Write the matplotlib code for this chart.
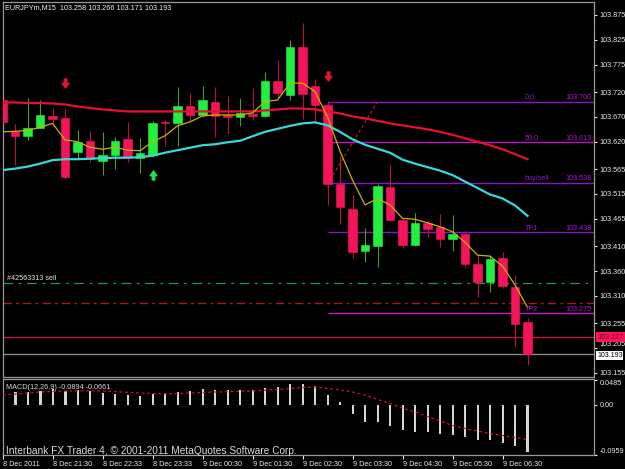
import matplotlib
matplotlib.use("Agg")
import matplotlib.pyplot as plt
import matplotlib.transforms as mtransforms
from matplotlib.patches import Rectangle
from matplotlib.path import Path

plt.rcParams['font.family'] = ['Liberation Sans', 'DejaVu Sans']
plt.rcParams['lines.scale_dashes'] = False

# ---------------- data ----------------
header_text = "EURJPYm,M15  103.258 103.266 103.171 103.193"
macd_text = "MACD(12,26,9) -0.0894 -0.0661"
copyright_text = "Interbank FX Trader 4, \u00a9 2001-2011 MetaQuotes Software Corp."

opens = [103.703, 103.642, 103.632, 103.647, 103.672, 103.667, 103.599, 103.621, 103.582, 103.594,
         103.626, 103.587, 103.593, 103.660, 103.658, 103.692, 103.674, 103.700, 103.674, 103.670,
         103.675, 103.672, 103.743, 103.714, 103.810, 103.732, 103.694, 103.536, 103.485, 103.401,
         103.411, 103.530, 103.463, 103.412, 103.456, 103.449, 103.424, 103.435, 103.374, 103.337,
         103.387, 103.327, 103.258]
highs = [103.712, 103.656, 103.709, 103.704, 103.687, 103.686, 103.644, 103.642, 103.640, 103.630,
         103.659, 103.627, 103.662, 103.664, 103.730, 103.719, 103.732, 103.731, 103.713, 103.709,
         103.728, 103.761, 103.784, 103.825, 103.858, 103.746, 103.701, 103.591, 103.512, 103.446,
         103.535, 103.573, 103.467, 103.476, 103.463, 103.474, 103.473, 103.437, 103.392, 103.392,
         103.399, 103.352, 103.266]
lows = [103.640, 103.573, 103.624, 103.647, 103.657, 103.545, 103.583, 103.580, 103.553, 103.566,
        103.580, 103.557, 103.590, 103.611, 103.611, 103.660, 103.670, 103.630, 103.636, 103.652,
        103.664, 103.670, 103.709, 103.704, 103.665, 103.660, 103.493, 103.455, 103.386, 103.379,
        103.368, 103.461, 103.406, 103.410, 103.428, 103.409, 103.401, 103.366, 103.308, 103.317,
        103.326, 103.209, 103.171]
closes = [103.660, 103.632, 103.647, 103.674, 103.666, 103.549, 103.620, 103.586, 103.593, 103.621,
          103.588, 103.597, 103.658, 103.657, 103.692, 103.674, 103.703, 103.672, 103.670, 103.677,
          103.672, 103.743, 103.718, 103.810, 103.716, 103.694, 103.535, 103.488, 103.398, 103.412,
          103.531, 103.463, 103.412, 103.456, 103.445, 103.424, 103.435, 103.374, 103.337, 103.384,
          103.329, 103.253, 103.193]

ma_red = [103.699, 103.699, 103.698, 103.698, 103.697, 103.695, 103.691, 103.688, 103.685, 103.683,
          103.681, 103.681, 103.681, 103.681, 103.681, 103.681, 103.681, 103.681, 103.681, 103.681,
          103.681, 103.683, 103.685, 103.687, 103.687, 103.685, 103.681, 103.677, 103.671, 103.667,
          103.662, 103.657, 103.653, 103.649, 103.645, 103.640, 103.634, 103.627, 103.620, 103.613,
          103.605, 103.595, 103.585]
ma_cyan = [103.563, 103.566, 103.570, 103.576, 103.583, 103.585, 103.585, 103.586, 103.587, 103.588,
           103.588, 103.589, 103.592, 103.598, 103.603, 103.608, 103.613, 103.615, 103.619, 103.622,
           103.631, 103.640, 103.646, 103.652, 103.657, 103.659, 103.653, 103.640, 103.625, 103.614,
           103.606, 103.598, 103.584, 103.576, 103.569, 103.562, 103.553, 103.540, 103.527, 103.514,
           103.506, 103.492, 103.471]
ma_yellow = [103.640, 103.641, 103.643, 103.649, 103.657, 103.624, 103.620, 103.609, 103.605, 103.609,
             103.603, 103.602, 103.620, 103.632, 103.652, 103.660, 103.672, 103.674, 103.674, 103.674,
             103.678, 103.701, 103.704, 103.738, 103.738, 103.721, 103.670, 103.601, 103.543, 103.493,
             103.506, 103.493, 103.466, 103.464, 103.457, 103.449, 103.439, 103.418, 103.392, 103.390,
             103.370, 103.332, 103.287]

macd_hist = [0.0274, 0.0255, 0.0255, 0.0274, 0.0301, 0.0274, 0.0288, 0.0268, 0.0224, 0.0211,
             0.0192, 0.0173, 0.0205, 0.0224, 0.0249, 0.0274, 0.0301, 0.0288, 0.0288, 0.0288,
             0.0288, 0.0320, 0.0339, 0.0403, 0.0403, 0.0364, 0.0192, 0.0052, -0.0178, -0.0320,
             -0.0332, -0.0403, -0.0479, -0.0512, -0.0523, -0.0556, -0.0575, -0.0608, -0.0671, -0.0671,
             -0.0723, -0.0786, -0.0894]
macd_signal = [0.0192, 0.0211, 0.0230, 0.0249, 0.0259, 0.0268, 0.0274, 0.0274, 0.0268, 0.0255,
               0.0244, 0.0230, 0.0221, 0.0217, 0.0221, 0.0230, 0.0240, 0.0249, 0.0255, 0.0263,
               0.0268, 0.0282, 0.0297, 0.0316, 0.0336, 0.0345, 0.0316, 0.0288, 0.0249, 0.0192,
               0.0105, 0.0029, -0.0058, -0.0134, -0.0221, -0.0307, -0.0393, -0.0451, -0.0499, -0.0547,
               -0.0585, -0.0623, -0.0661]

time_labels = ['8 Dec 2011', '8 Dec 21:30', '8 Dec 22:33', '8 Dec 23:33', '9 Dec 00:30',
               '9 Dec 01:30', '9 Dec 02:30', '9 Dec 03:30', '9 Dec 04:30', '9 Dec 05:30',
               '9 Dec 06:30']
time_label_bars = [0, 4, 8, 12, 16, 20, 24, 28, 32, 36, 40]

price_ticks = [103.875, 103.825, 103.775, 103.720, 103.670, 103.620, 103.565, 103.515,
               103.465, 103.410, 103.360, 103.310, 103.255, 103.205, 103.155]
macd_ticks = [0.0485, 0.0, -0.0959]
macd_tick_labels = ['0.0485', '0.00', '-0.0959']

fib_levels = [103.700, 103.619, 103.538, 103.438, 103.275]
fib_names = ['0.0', '50.0', 'buy/sell', 'TP1', 'TP2']
fib_price_labels = ['103.700', '103.619', '103.538', '103.438', '103.275']
fib_start_bar = 26

order_line = 103.335
order_label = '#42563313 sell'
stop_line = 103.296
alert_line = 103.227
bid_line = 103.193

trend_bars = [26.44, 29.96]
trend_prices = [103.553, 103.699]

arrow_down_bars = [5, 26]
arrow_down_prices = [103.739, 103.753]
arrow_up_bars = [12]
arrow_up_prices = [103.553]

# ---------------- layout ----------------
W, H = 625, 469
fig = plt.figure(figsize=(W / 100, H / 100), dpi=100, facecolor='black')


def px_axes(x0, y0, x1, y1):
    return [x0 / W, 1 - y1 / H, (x1 - x0) / W, (y1 - y0) / H]


ax = fig.add_axes(px_axes(3, 2, 594, 377), facecolor='black')
axm = fig.add_axes(px_axes(3, 379, 594, 455), facecolor='black')

n = len(opens)
xs = list(range(n))
XMIN, XMAX = 0.04, 47.32
for a in (ax, axm):
    a.set_xlim(XMIN, XMAX)
    for s in a.spines.values():
        s.set_color('#9a9a9a')
        s.set_linewidth(0.9)

ax.set_ylim(103.1469, 103.9011)
axm.set_ylim(-0.09588, 0.04986)

# ---------------- main panel ----------------
bull_body, bear_body = '#22f040', '#f5145a'
bull_wick, bear_wick = '#4aa020', '#b8143c'
half = 0.34
for k in xs:
    o, h, l, c = opens[k], highs[k], lows[k], closes[k]
    up = c >= o
    ax.vlines(k, l, h, color=bull_wick if up else bear_wick, lw=0.8, zorder=2)
    bc = bull_body if up else bear_body
    ax.add_patch(Rectangle((k - half, min(o, c)), 2 * half, max(abs(c - o), 0.0012),
                           facecolor=bc, edgecolor=bc, lw=0.4, zorder=3))

# horizontal order / alert lines
ax.axhline(order_line, color='#1f9a3c', lw=0.9, ls=(0, (7, 4, 2, 4)), zorder=1)
ax.axhline(stop_line, color='#b01818', lw=1.0, ls=(0, (6, 3, 2, 3)), zorder=1)
ax.axhline(alert_line, color='#c4123e', lw=1.0, zorder=1)
ax.axhline(bid_line, color='#8a8a8a', lw=1.0, zorder=1)

# fibonacci levels
fib_line_colors = ['#8c14c8', '#c010c0', '#8c14c8', '#8c14c8', '#c818c8']
for lev, col in zip(fib_levels, fib_line_colors):
    ax.hlines(lev, fib_start_bar, XMAX + 1, color=col, lw=1.0, zorder=1)
ax.plot(trend_bars, trend_prices, color='#c41818', lw=0.9, ls=(0, (2, 2)), zorder=1)

# moving averages
ax.plot(xs, ma_red, color='#e8102e', lw=1.6, zorder=4)
ax.plot(xs, ma_cyan, color='#38d8d8', lw=1.6, zorder=4)
ax.plot(xs, ma_yellow, color='#c8b400', lw=0.9, zorder=5)

# arrows
down_arrow = Path([(-0.28, 1.0), (0.28, 1.0), (0.28, 0.05), (0.75, 0.05), (0.0, -1.0),
                   (-0.75, 0.05), (-0.28, 0.05), (-0.28, 1.0)], closed=True)
up_arrow = Path([(x, -y) for x, y in down_arrow.vertices], closed=True)
ax.plot(arrow_down_bars, arrow_down_prices, ls='none', marker=down_arrow, ms=6.5,
        color='#e8142e', mec='#e8142e', zorder=6)
ax.plot(arrow_up_bars, arrow_up_prices, ls='none', marker=up_arrow, ms=6.5,
        color='#22e048', mec='#22e048', zorder=6)

# texts inside main panel
blend = mtransforms.blended_transform_factory(ax.transAxes, ax.transData)
name_x = (525 - 3) / 591
price_x = (592 - 3) / 591
fib_text_colors = ['#8c18c8', '#b414c8', '#8c18c8', '#8c18c8', '#b414c8']
for lev, name, plab, col in zip(fib_levels, fib_names, fib_price_labels, fib_text_colors):
    ax.text(name_x, lev + 0.001, name, transform=blend, ha='left', va='bottom',
            fontsize=5.2, color=col, zorder=7)
    ax.text(price_x, lev + 0.001, plab, transform=blend, ha='right', va='bottom',
            fontsize=5.2, color='#b010d0', zorder=7)
ax.text((7 - 3) / 591, order_line + 0.002, order_label, transform=blend, ha='left',
        va='bottom', fontsize=5.2, color='#e0e0e0', zorder=7)

# right price axis
ax.yaxis.tick_right()
ax.set_yticks(price_ticks)
ax.set_yticklabels([f'{p:.3f}' for p in price_ticks])
ax.tick_params(axis='y', colors='#e8e8e8', labelsize=5.2, length=2.5, width=0.8, pad=1.5)
ax.set_xticks([])
ylab_main = ax.get_yticklabels()
ylab_main[-2].set_va('bottom')

right_tr = mtransforms.offset_copy(blend, fig=fig, x=3, y=0, units='dots')
ax.text(1.0, alert_line, '103.227', transform=right_tr, ha='left', va='center', fontsize=5.2,
        color='#7a0022', bbox=dict(boxstyle='square,pad=0.2', fc='#ff1458', ec='none'),
        clip_on=False, zorder=8)
bid_tr = mtransforms.offset_copy(blend, fig=fig, x=3, y=-1.5, units='dots')
ax.text(1.0, bid_line, '103.193', transform=bid_tr, ha='left', va='center', fontsize=5.0,
        color='black', bbox=dict(boxstyle='square,pad=0.12', fc='white', ec='none'),
        clip_on=False, zorder=8)

# ---------------- MACD panel ----------------
axm.bar(xs, macd_hist, width=0.17, color='#d4d4d4', zorder=2)
axm.plot(xs, macd_signal, color='#d41020', lw=0.9, ls=(0, (2, 2)), zorder=3)
axm.yaxis.tick_right()
axm.set_yticks(macd_ticks)
axm.set_yticklabels(macd_tick_labels)
axm.tick_params(axis='y', colors='#e8e8e8', labelsize=5.2, length=2.5, width=0.8, pad=1.5)
ylabels = axm.get_yticklabels()
ylabels[0].set_va('top')
ylabels[2].set_va('bottom')

axm.set_xticks(time_label_bars)
axm.set_xticklabels(time_labels)
axm.tick_params(axis='x', colors='#e8e8e8', labelsize=5.2, length=3, width=0.8, pad=1.5)
for lab in axm.get_xticklabels():
    lab.set_ha('left')

# ---------------- figure texts ----------------
fig.text(5 / W, 1 - 8 / H, header_text, ha='left', va='center', fontsize=5.2, color='#f0f0f0')
fig.text(6 / W, 1 - 387 / H, macd_text, ha='left', va='center', fontsize=5.2, color='#d8d8d8')
fig.text(6 / W, 1 - 451 / H, copyright_text, ha='left', va='center', fontsize=7.3,
         color='#d8d8d8')

fig.savefig('out.png', dpi=100, facecolor='black')
